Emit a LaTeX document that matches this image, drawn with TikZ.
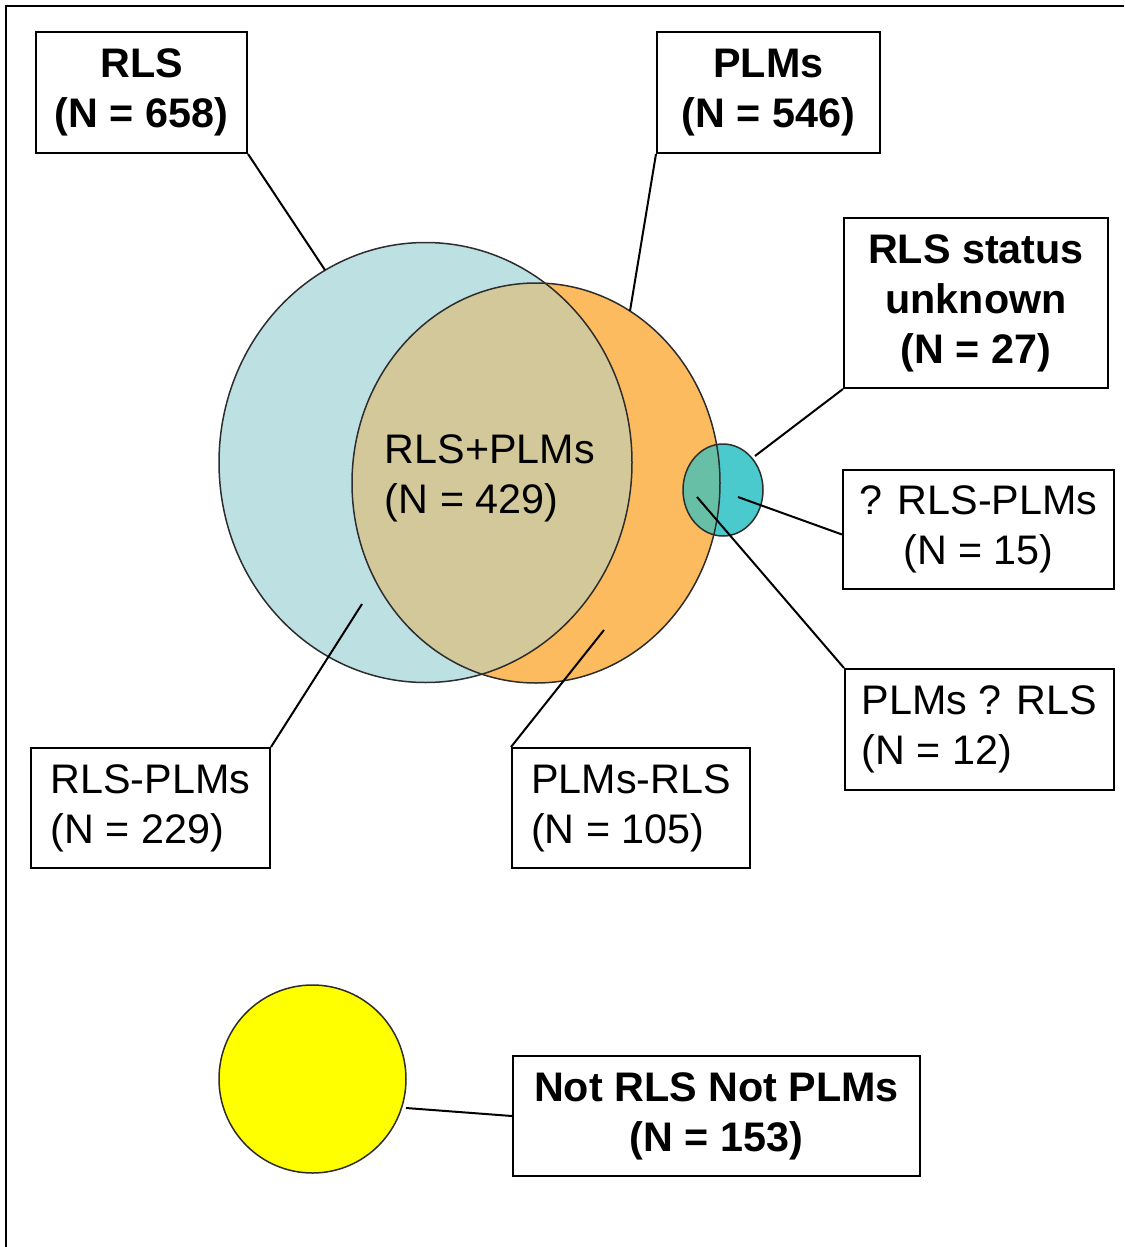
\documentclass[tikz,border=0pt]{standalone}
\usepackage{fontspec}
\setmainfont{Liberation Sans}
\usepackage{xcolor}
\definecolor{rlsblue}{RGB}{189, 224, 227}
\definecolor{plmorange}{RGB}{253, 187, 96}
\definecolor{bothtan}{RGB}{210, 200, 154}
\definecolor{unkteal}{RGB}{74, 202, 204}
\definecolor{unkgreen}{RGB}{103, 192, 165}
\definecolor{rim}{RGB}{45, 45, 45}
\definecolor{nonyellow}{RGB}{255, 255, 0}
\usepackage{tikz}
\usetikzlibrary{positioning}
\tikzset{
  box/.style={draw, line width=0.4mm, inner sep=0pt, align=left,
    font=\fontsize{23.5}{28.5}\selectfont,
    execute at begin node={\rule{0pt}{21pt}}},
  boldbox/.style={box, align=center, font=\fontsize{23.5}{28.5}\selectfont\bfseries},
  link/.style={line width=0.4mm},
  outline/.style={draw=rim, line width=0.3mm}
}

\begin{document}
\begin{tikzpicture}[x=0.2mm, y=-0.2mm]
  \useasboundingbox (0,0) rectangle (1124,1247);
  % frame
  \draw[line width=0.5mm] (6,1247) -- (6,6) -- (1124,6);
  % circle centres
  \coordinate (rlsc) at (425.5,462.5);
  \coordinate (plmc) at (536,483);
  \coordinate (unkc) at (723,490);
  \coordinate (notc) at (312.5,1079);
  % fills
  \fill[rlsblue] (rlsc) ellipse [x radius=206.5, y radius=220];
  \fill[plmorange] (plmc) ellipse [x radius=184, y radius=200];
  \begin{scope}
    \clip (rlsc) ellipse [x radius=206.5, y radius=220];
    \fill[bothtan] (plmc) ellipse [x radius=184, y radius=200];
  \end{scope}
  \fill[unkteal] (unkc) ellipse [x radius=40, y radius=46];
  \begin{scope}
    \clip (plmc) ellipse [x radius=184, y radius=200];
    \fill[unkgreen] (unkc) ellipse [x radius=40, y radius=46];
  \end{scope}
  % outlines
  \draw[outline] (rlsc) ellipse [x radius=206.5, y radius=220];
  \draw[outline] (plmc) ellipse [x radius=184, y radius=200];
  \draw[outline] (unkc) ellipse [x radius=40, y radius=46];
  \filldraw[fill=nonyellow, outline] (notc) ellipse [x radius=93.5, y radius=94];
  % labels
  \node[boldbox, minimum width=42.2mm, minimum height=24.2mm] (rlsbox) at (141.5,92.5) {RLS\\(N = 658)};
  \node[boldbox, minimum width=44.6mm, minimum height=24.2mm] (plmbox) at (768.5,92.5) {PLMs\\(N = 546)};
  \node[boldbox, minimum width=52.8mm, minimum height=34mm] (unkbox) at (976,303) {RLS status\\unknown\\(N = 27)};
  \node[box, align=center, minimum width=54.2mm, minimum height=23.8mm] (qrpbox) at (978.5,529.5) {? RLS-PLMs\\(N = 15)};
  \node[box, minimum width=53.8mm, minimum height=24.2mm] (pqrbox) at (979.5,729.5) {PLMs ? RLS\\(N = 12)};
  \node[box, minimum width=47.8mm, minimum height=24mm] (rpbox) at (150.5,808) {RLS-PLMs\\(N = 229)};
  \node[box, minimum width=47.6mm, minimum height=24mm] (prbox) at (631,808) {PLMs-RLS\\(N = 105)};
  \node[boldbox, minimum width=81.4mm, minimum height=24mm] (notbox) at (716.5,1116) {Not RLS Not PLMs\\(N = 153)};
  \node[box, draw=none] (bothlbl) at (490,478) {RLS+PLMs\\(N = 429)};
  % connector ends
  \coordinate (rlsend) at (325,270);
  \coordinate (plmend) at (630,311);
  \coordinate (unkend) at (755,456);
  \coordinate (qrpend) at (738,497);
  \coordinate (pqrend) at (697,497);
  \coordinate (rpend) at (362,604);
  \coordinate (prend) at (604,630);
  \coordinate (notend) at (406,1108);
  % connectors
  \draw[link] (rlsbox.south east) -- (rlsend);
  \draw[link] (plmbox.south west) -- (plmend);
  \draw[link] (unkbox.south west) -- (unkend);
  \draw[link] ([yshift=-1mm]qrpbox.west) -- (qrpend);
  \draw[link] (pqrbox.north west) -- (pqrend);
  \draw[link] (rpbox.north east) -- (rpend);
  \draw[link] (prbox.north west) -- (prend);
  \draw[link] (notbox.west) -- (notend);
\end{tikzpicture}
\end{document}
